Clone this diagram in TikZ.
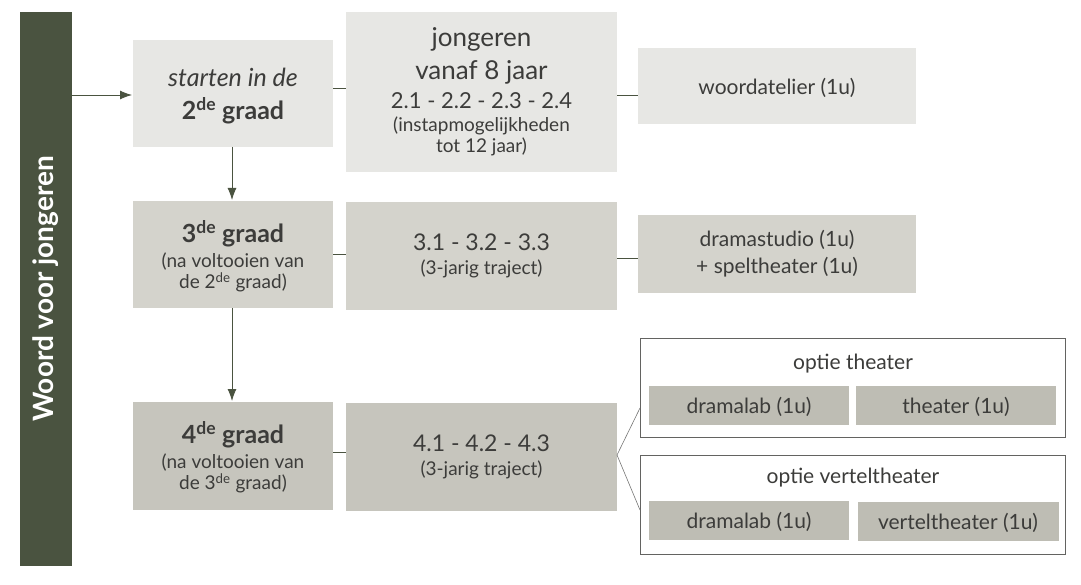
\documentclass[tikz,border=0pt]{standalone}
\usepackage{fontspec}
\setmainfont{Lato}
\usetikzlibrary{arrows.meta}
\begin{document}
\definecolor{bar}{HTML}{4A5340}
\definecolor{cA}{HTML}{E7E7E4}
\definecolor{cB}{HTML}{D4D3CC}
\definecolor{cC}{HTML}{C6C5BD}
\definecolor{cD}{HTML}{BEBDB4}
\definecolor{txt}{HTML}{3C3C3A}
\begin{tikzpicture}[x=1pt,y=-1pt,
  box/.style={draw=none,inner sep=0,align=center,text=txt,font=\fontsize{19}{21}\selectfont},
  lbl/.style={box,font=\fontsize{21}{25}\selectfont},
  ln/.style={draw=bar,line width=0.9pt},
  ar/.style={ln,-{Latex[length=12pt,width=9pt]}}]
\useasboundingbox[fill=white] (0,0) rectangle (1081,585);
\fill[bar] (20,12) rectangle (72,566);
\node[rotate=90,text=white,font=\fontsize{28}{30}\selectfont\bfseries] (title) at (46,289) {Woord voor jongeren};
\coordinate (t) at (72,95);
% row 1
\fill[cA] (133,40) rectangle (333,147);
\node[box] (a) at (233,96) {{\fontsize{25}{33}\selectfont\itshape starten in de}\\[10pt]{\fontsize{25}{33}\selectfont\bfseries 2\textsuperscript{de} graad}};
\fill[cA] (346,12) rectangle (617,172);
\node[box] (b) at (481.5,92) {{\fontsize{26}{31}\selectfont jongeren}\\[8pt]{\fontsize{26}{31}\selectfont vanaf 8 jaar}\\[8pt]{\fontsize{22}{25}\selectfont 2.1 - 2.2 - 2.3 - 2.4}\\[2pt](instapmogelijkheden\\tot 12 jaar)};
\fill[cA] (638,48) rectangle (916,124);
\node[lbl] (c) at (777,88) {woordatelier (1u)};
% row 2
\fill[cB] (133,201) rectangle (333,308);
\node[box] (d) at (233,256) {{\fontsize{25}{28}\selectfont\bfseries 3\textsuperscript{de} graad}\\[4pt](na voltooien van\\de 2\textsuperscript{de} graad)};
\fill[cB] (346,202) rectangle (617,310);
\node[box] (e) at (481.5,256) {{\fontsize{23}{26}\selectfont 3.1 - 3.2 - 3.3}\\[3pt](3-jarig traject)};
\fill[cB] (638,215) rectangle (916,293);
\node[lbl] (f) at (777,254) {dramastudio (1u)\\[2pt]+ speltheater (1u)};
% row 3
\fill[cC] (133,402) rectangle (333,510);
\node[box] (g) at (233,457) {{\fontsize{25}{28}\selectfont\bfseries 4\textsuperscript{de} graad}\\[4pt](na voltooien van\\de 3\textsuperscript{de} graad)};
\fill[cC] (346,403) rectangle (617,511);
\node[box] (h) at (481.5,457) {{\fontsize{23}{26}\selectfont 4.1 - 4.2 - 4.3}\\[3pt](3-jarig traject)};
\draw[txt!80,line width=0.8pt] (640,338) rectangle (1065,437);
\draw[txt!80,line width=0.8pt] (640,455) rectangle (1065,554);
\node[lbl] (o1) at (853,364) {optie theater};
\node[lbl] (o2) at (853,478) {optie verteltheater};
\fill[cD] (649,386) rectangle (849,425); \node[lbl] (p1) at (749,407) {dramalab (1u)};
\fill[cD] (856,386) rectangle (1056,425); \node[lbl] (p2) at (956,407) {theater (1u)};
\fill[cD] (649,501) rectangle (849,540); \node[lbl] (p3) at (749,522) {dramalab (1u)};
\fill[cD] (858,502) rectangle (1059,541); \node[lbl] (p4) at (958,523) {verteltheater (1u)};
% connectors
\coordinate (a1) at (132,95);
\draw[ar] (t) -- (a1);
\coordinate (ab1) at (333,88); \coordinate (ab2) at (346,88);
\draw[ln] (ab1) -- (ab2);
\coordinate (bc1) at (617,95); \coordinate (bc2) at (638,95);
\draw[ln] (bc1) -- (bc2);
\coordinate (ad1) at (232,147); \coordinate (ad2) at (232,200);
\draw[ar] (ad1) -- (ad2);
\coordinate (de1) at (333,254); \coordinate (de2) at (346,254);
\draw[ln] (de1) -- (de2);
\coordinate (ef1) at (617,258); \coordinate (ef2) at (638,258);
\draw[ln] (ef1) -- (ef2);
\coordinate (dg1) at (232,308); \coordinate (dg2) at (232,401);
\draw[ar] (dg1) -- (dg2);
\coordinate (gh1) at (333,452); \coordinate (gh2) at (346,452);
\draw[ln] (gh1) -- (gh2);
\coordinate (v) at (617,455); \coordinate (v1) at (640,408); \coordinate (v2) at (640,510);
\draw[ln,line width=0.6pt,draw=txt!70] (v1) -- (v) -- (v2);
\end{tikzpicture}
\end{document}
